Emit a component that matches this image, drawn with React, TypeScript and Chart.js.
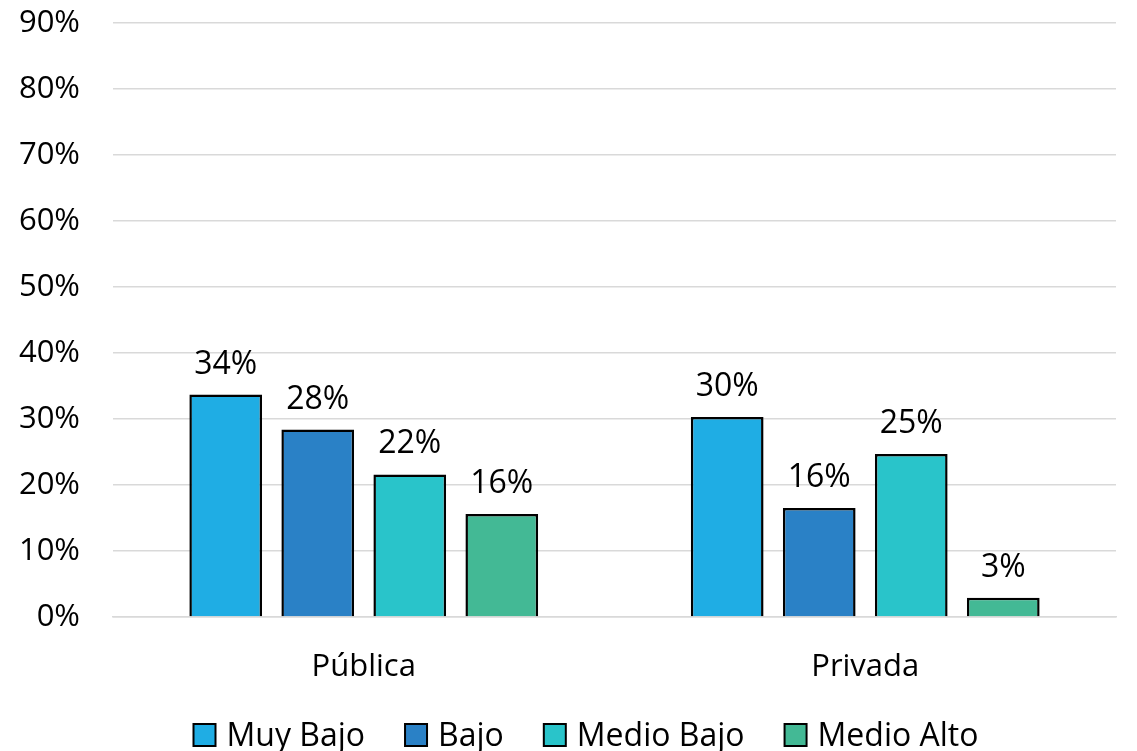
import React, { useEffect, useRef } from "react";
import { Chart, registerables } from "chart.js";

Chart.register(...registerables);

const categories = ["Pública", "Privada"];
const seriesNames = ["Muy Bajo", "Bajo", "Medio Bajo", "Medio Alto"];
const muyBajo = [33.7, 30.3];
const bajo = [28.4, 16.5];
const medioBajo = [21.6, 24.7];
const medioAlto = [15.6, 2.9];
const labelsMuyBajo = ["34%", "30%"];
const labelsBajo = ["28%", "16%"];
const labelsMedioBajo = ["22%", "25%"];
const labelsMedioAlto = ["16%", "3%"];
const colors = ["#1FADE4", "#2A81C6", "#29C4CA", "#43B995"];
const yTicks = [0, 10, 20, 30, 40, 50, 60, 70, 80, 90];

const FONT = "'Open Sans', 'Noto Sans', sans-serif";

const labelPlugin = {
  id: "barLabels",
  afterDatasetsDraw(chart: any) {
    const ctx = chart.ctx;
    ctx.save();
    ctx.font = `32px ${FONT}`;
    ctx.fillStyle = "#000";
    ctx.textAlign = "center";
    ctx.textBaseline = "alphabetic";
    chart.data.datasets.forEach((ds: any, i: number) => {
      const meta = chart.getDatasetMeta(i);
      meta.data.forEach((bar: any, j: number) => {
        ctx.fillText(ds.valueLabels[j], bar.x, bar.y - 21);
      });
    });
    ctx.restore();
  },
};

const legendPlugin = {
  id: "customLegend",
  afterDraw(chart: any) {
    const ctx = chart.ctx;
    ctx.save();
    ctx.font = `32px ${FONT}`;
    ctx.textBaseline = "alphabetic";
    ctx.textAlign = "left";
    const box = 22;
    const textGap = 11;
    const itemGap = 40;
    const items = chart.data.datasets.map((ds: any) => ({
      label: ds.label,
      color: ds.backgroundColor,
      w: box + textGap + ctx.measureText(ds.label).width,
    }));
    const total = items.reduce((s: number, it: any) => s + it.w, 0) + itemGap * (items.length - 1);
    let x = 586 - total / 2;
    const yTop = 724;
    items.forEach((it: any) => {
      ctx.fillStyle = it.color;
      ctx.fillRect(x, yTop, box, box);
      ctx.strokeStyle = "#000";
      ctx.lineWidth = 2;
      ctx.strokeRect(x, yTop, box, box);
      ctx.fillStyle = "#000";
      ctx.fillText(it.label, x + box + textGap, yTop + box);
      x += it.w + itemGap;
    });
    ctx.restore();
  },
};

export default function App() {
  const ref = useRef<HTMLCanvasElement>(null);
  useEffect(() => {
    document.body.style.margin = "0";
    const values = [muyBajo, bajo, medioBajo, medioAlto];
    const lbls = [labelsMuyBajo, labelsBajo, labelsMedioBajo, labelsMedioAlto];
    const chart = new Chart(ref.current!, {
      type: "bar",
      data: {
        labels: categories,
        datasets: seriesNames.map((name, i) => ({
          label: name,
          data: values[i],
          valueLabels: lbls[i],
          backgroundColor: colors[i],
          borderColor: "#000",
          borderWidth: 2.5,
          categoryPercentage: 0.734,
          barPercentage: 0.79,
        })) as any,
      },
      options: {
        responsive: false,
        animation: false,
        layout: { padding: { top: 0, right: 21, left: 0, bottom: 65 } },
        plugins: {
          legend: { display: false },
          tooltip: { enabled: false },
        },
        scales: {
          x: {
            afterFit: (axis: any) => {
              axis.height = 69;
            },
            grid: { display: false, drawTicks: false },
            border: { color: "#D9D9D9", width: 1.5 },
            ticks: { font: { size: 31, family: FONT }, color: "#000", padding: 32 },
          },
          y: {
            min: 0,
            max: 90,
            afterBuildTicks: (axis: any) => {
              axis.ticks = yTicks.map((v) => ({ value: v }));
            },
            afterFit: (axis: any) => {
              axis.width = 113;
              axis.paddingTop = 23;
              axis.paddingBottom = 0;
            },
            grid: { color: "#D9D9D9", lineWidth: 1.5, drawTicks: false },
            border: { display: false },
            ticks: {
              font: { size: 31, family: FONT },
              color: "#000",
              padding: 33,
              callback: (v: any) => `${v}%`,
            },
          },
        },
      },
      plugins: [labelPlugin, legendPlugin],
    });
    return () => chart.destroy();
  }, []);
  return <canvas ref={ref} width={1137} height={751} />;
}
